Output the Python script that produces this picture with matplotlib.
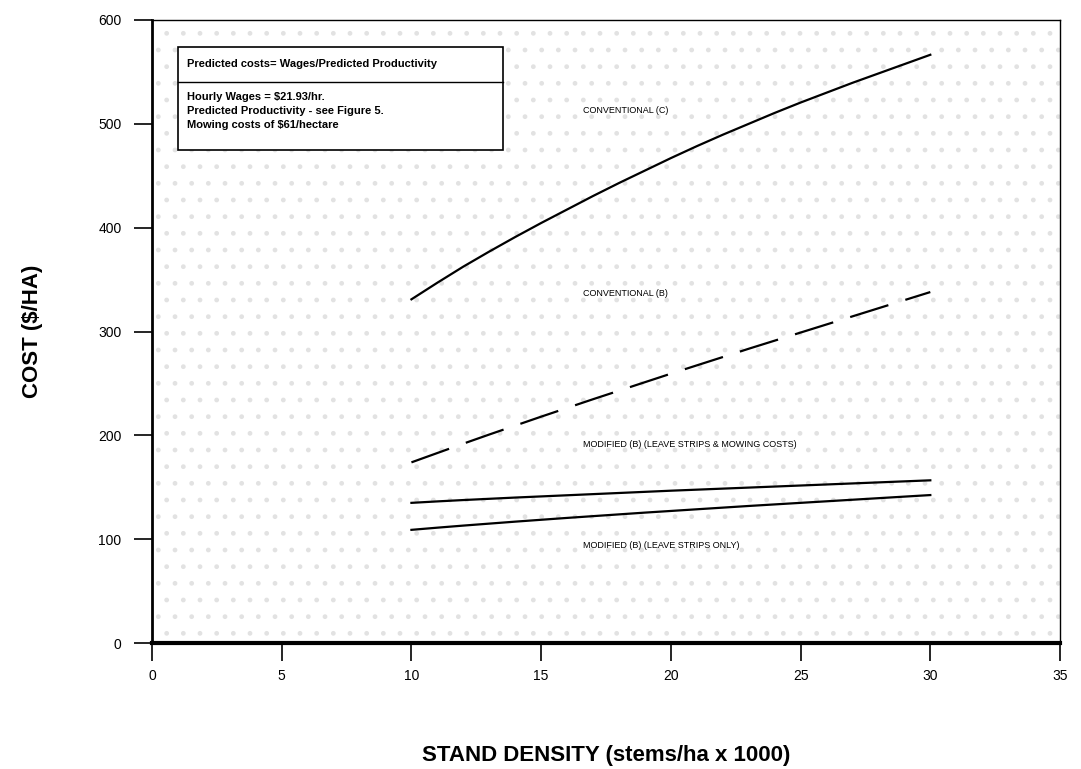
import matplotlib.pyplot as plt
from matplotlib.patches import Rectangle

# stand density (stems/ha x 1000)
density = list(range(10, 31))

conv_c = [331, 347, 362.5, 377, 391, 404.5, 417.5, 430.5, 443, 455, 467,
          478.5, 489.5, 500, 510.5, 520.5, 530, 539.5, 548.5, 557.5, 566.5]
conv_b = [174, 183, 192, 200.8, 209.4, 218, 226.4, 234.8, 243, 251.2, 259.4,
          267.4, 275.4, 283.4, 291.2, 299, 306.8, 314.6, 322.4, 330.2, 338]
mod_mow = [135, 136.4, 137.7, 138.9, 140.1, 141.2, 142.3, 143.4, 144.5, 145.6, 146.7,
           147.7, 148.7, 149.7, 150.7, 151.7, 152.7, 153.7, 154.7, 155.7, 156.7]
mod_strips = [109, 111.1, 113.1, 115.0, 116.9, 118.7, 120.5, 122.2, 123.9, 125.6, 127.2,
              128.8, 130.4, 132.0, 133.5, 135.0, 136.5, 138.0, 139.5, 141.0, 142.5]

xticks = [0, 5, 10, 15, 20, 25, 30, 35]
yticks = [0, 100, 200, 300, 400, 500, 600]

plt.rcParams['font.family'] = ['Liberation Sans', 'DejaVu Sans']

fig = plt.figure(figsize=(10.81, 7.69), dpi=100)
ax = fig.add_axes([0.1406, 0.1638, 0.8400, 0.8102])

# stipple-ish background
bg = Rectangle((0, 0), 1, 1, transform=ax.transAxes, facecolor='none',
               edgecolor='#e2e2e2', hatch='.', lw=0, zorder=0)
ax.add_patch(bg)

ax.plot(density, conv_c, color='black', lw=1.6, zorder=3)
ax.plot(density, conv_b, color='black', lw=1.6, ls=(0, (18, 8)), zorder=3)
ax.plot(density, mod_mow, color='black', lw=1.6, zorder=3)
ax.plot(density, mod_strips, color='black', lw=1.6, zorder=3)

lab_kw = dict(fontsize=6.5, color='black', zorder=4, va='center')
ax.text(16.6, 513, 'CONVENTIONAL (C)', **lab_kw)
ax.text(16.6, 337, 'CONVENTIONAL (B)', **lab_kw)
ax.text(16.6, 191, 'MODIFIED (B) (LEAVE STRIPS & MOWING COSTS)', **lab_kw)
ax.text(16.6, 94, 'MODIFIED (B) (LEAVE STRIPS ONLY)', **lab_kw)

# info box
box = Rectangle((0.9886, 474.5), 12.53, 99.2, facecolor='white',
                edgecolor='black', lw=1.2, zorder=5)
ax.add_patch(box)
ax.plot([0.9886, 13.52], [540, 540], color='black', lw=1.0, zorder=6)
ax.text(1.35, 557.5, 'Predicted costs= Wages/Predicted Productivity',
        fontsize=8, fontweight='bold', va='center', zorder=7)
ax.text(1.35, 531, 'Hourly Wages = $21.93/hr.\nPredicted Productivity - see Figure 5.\nMowing costs of $61/hectare',
        fontsize=8, fontweight='bold', va='top', linespacing=1.5, zorder=7)

ax.set_xlim(0, 35)
ax.set_ylim(0, 600)
ax.set_xticks(xticks)
ax.set_yticks(yticks)
ax.tick_params(axis='both', direction='out', length=13, width=1.2, labelsize=10)
ax.tick_params(axis='x', pad=6)
ax.tick_params(axis='y', pad=9)
ax.spines['bottom'].set_linewidth(3)
ax.spines['left'].set_linewidth(2)
ax.spines['top'].set_linewidth(1)
ax.spines['right'].set_linewidth(1)

ax.set_ylabel('COST ($/HA)', fontsize=16, fontweight='bold', labelpad=40)
ax.set_xlabel('STAND DENSITY (stems/ha x 1000)', fontsize=16, fontweight='bold', labelpad=44)

fig.savefig('out.png', dpi=100)
